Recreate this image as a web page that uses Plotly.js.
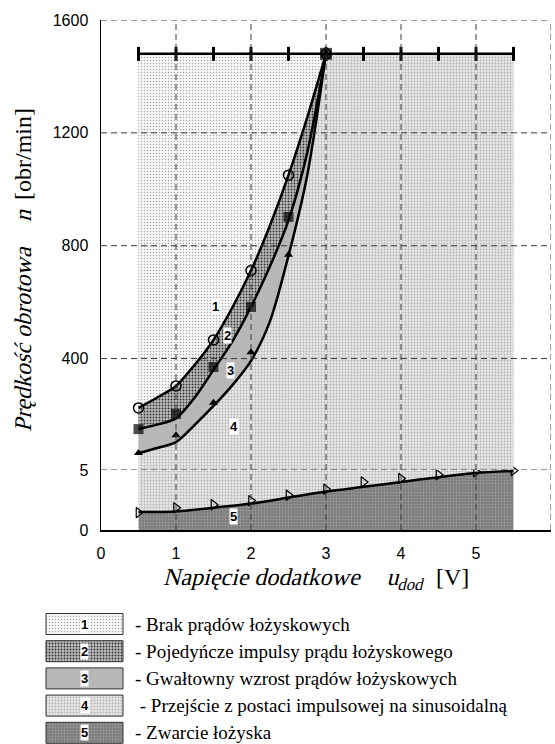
<!DOCTYPE html>
<html>
<head>
<meta charset="utf-8">
<script src="https://cdn.plot.ly/plotly-3.0.1.min.js"></script>
<style>html,body{margin:0;padding:0;background:#fff;}#chart{width:555px;height:744px;}</style>
</head>
<body>
<div id="chart"></div>
<script>
// ---------------- data ----------------
// measured points (region boundaries 1-3), upper panel [obr/min]
const voltagePts = [0.5, 1, 1.5, 2, 2.5, 3];
const n1Pts = [225, 303, 466, 712, 1050, 1480];   // circles
const n2Pts = [150, 204, 370, 583, 902, 1480];    // squares
const n3Pts = [65, 128, 243, 422, 768, 1480];     // triangles
// fitted boundary curves
const voltageFit = [0.5, 0.75, 1, 1.25, 1.5, 1.75, 2, 2.25, 2.5, 2.75, 3];
const n1Fit = [225, 262, 303, 378, 466, 580, 712, 870, 1050, 1255, 1480];
const n2Fit = [150, 166, 188, 262, 360, 460, 583, 725, 890, 1130, 1480];
const n3Fit = [65, 83, 104, 165, 232, 305, 392, 530, 765, 1050, 1480];
// rated speed line
const voltageTop = [0.5, 1, 1.5, 2, 2.5, 3, 3.5, 4, 4.5, 5, 5.5];
const nTop = [1480, 1480, 1480, 1480, 1480, 1480, 1480, 1480, 1480, 1480, 1480];
// region 5 boundary, lower panel (0..5)
const voltage5 = [0.5, 1, 1.5, 2, 2.5, 3, 3.5, 4, 4.5, 5, 5.5];
const n5Pts = [1.45, 1.85, 2.1, 2.45, 2.9, 3.4, 4.0, 4.3, 4.6, 4.85, 4.95];
const n5Fit = [1.5, 1.55, 1.85, 2.2, 2.7, 3.2, 3.6, 4.0, 4.4, 4.75, 4.92];
// axes
const xTicks = [0, 1, 2, 3, 4, 5, 6];
const yTicksUpper = [5, 400, 800, 1200, 1600];
const yTicksLower = [0];
const regionLabels = ['1', '2', '3', '4', '5'];
const regionLabelX = [1.53, 1.69, 1.72, 1.77, 1.76];
const regionLabelY = [584, 480, 357, 158, 1.1];
const legendTexts = [
  '- Brak prądów łożyskowych',
  '- Pojedyńcze impulsy prądu łożyskowego',
  '- Gwałtowny wzrost prądów łożyskowych',
  ' - Przejście z postaci impulsowej na sinusoidalną',
  '- Zwarcie łożyska'
];
const xTitleParts = ['Napięcie dodatkowe', 'u<sub>dod</sub>', '[V]'];
const yTitleParts = ['Prędkość obrotowa', 'n', '[obr/min]'];

// ---------------- styles ----------------
const W = 555, H = 744;
const PL = 101, PR = 551, PT = 20, PBRK = 470, PB = 530;
const xDom = [PL / W, PR / W];
const yUpDom = [(H - PBRK) / H, (H - PT) / H];
const yLoDom = [(H - PB) / H, (H - PBRK) / H];
const SERIF = 'Liberation Serif';
const SANS = 'Liberation Sans';

const patterns = [
  {shape: '.', bgcolor: '#f7f7f7', fgcolor: '#a8a8a8', size: 3, solidity: 0.2, fillmode: 'replace'},
  {shape: '.', bgcolor: '#bdbdbd', fgcolor: '#303030', size: 3, solidity: 0.3, fillmode: 'replace'},
  {shape: '.', bgcolor: '#c9c9c9', fgcolor: '#9c9c9c', size: 2, solidity: 0.4, fillmode: 'replace'},
  {shape: '.', bgcolor: '#e6e6e6', fgcolor: '#b4b4b4', size: 3, solidity: 0.3, fillmode: 'replace'},
  {shape: '.', bgcolor: '#7c7c7c', fgcolor: '#9c9c9c', size: 3, solidity: 0.3, fillmode: 'replace'}
];
const noLine = {width: 0, color: 'rgba(0,0,0,0)'};
const bold = {color: '#000', width: 2.5, shape: 'spline', smoothing: 0.8};

const traces = [];
const first = a => a[0], last = a => a[a.length - 1];

traces.push({x: [first(voltageTop), last(voltageTop)], y: [yTicksUpper[0], yTicksUpper[0]], xaxis: 'x', yaxis: 'y2', mode: 'lines', line: noLine, hoverinfo: 'skip', showlegend: false});
traces.push({x: [first(voltageTop), last(voltageTop)], y: [first(nTop), last(nTop)], xaxis: 'x', yaxis: 'y2', mode: 'lines', line: noLine, fill: 'tonexty', fillpattern: patterns[3], fillcolor: patterns[3].bgcolor, hoverinfo: 'skip', showlegend: false});
traces.push({x: [first(voltageFit), last(voltageFit)], y: [first(nTop), first(nTop)], xaxis: 'x', yaxis: 'y2', mode: 'lines', line: noLine, hoverinfo: 'skip', showlegend: false});
traces.push({x: voltageFit, y: n1Fit, xaxis: 'x', yaxis: 'y2', mode: 'lines', line: bold, fill: 'tonexty', fillpattern: patterns[0], fillcolor: patterns[0].bgcolor, showlegend: false});
traces.push({x: voltageFit, y: n2Fit, xaxis: 'x', yaxis: 'y2', mode: 'lines', line: bold, fill: 'tonexty', fillpattern: patterns[1], fillcolor: patterns[1].bgcolor, showlegend: false});
traces.push({x: voltageFit, y: n3Fit, xaxis: 'x', yaxis: 'y2', mode: 'lines', line: bold, fill: 'tonexty', fillpattern: patterns[2], fillcolor: patterns[2].bgcolor, showlegend: false});
traces.push({x: voltageTop, y: nTop, xaxis: 'x', yaxis: 'y2', mode: 'lines+markers', line: {color: '#000', width: 2.5},
  marker: {symbol: 'line-ns-open', size: 10, color: '#000', line: {color: '#000', width: 3}}, cliponaxis: false, showlegend: false});
traces.push({x: voltagePts, y: n1Pts, xaxis: 'x', yaxis: 'y2', mode: 'markers', marker: {symbol: 'circle-open', size: 10, color: '#000', line: {width: 1.5, color: '#000'}}, showlegend: false});
traces.push({x: voltagePts, y: n3Pts, xaxis: 'x', yaxis: 'y2', mode: 'markers', marker: {symbol: 'triangle-up', size: 8, color: '#000', line: {width: 0}}, showlegend: false});
traces.push({x: voltagePts, y: n2Pts, xaxis: 'x', yaxis: 'y2', mode: 'markers',
  marker: {symbol: 'square', size: voltagePts.map((v, i) => i === voltagePts.length - 1 ? 12 : 10),
           color: '#000', line: {width: 0}}, cliponaxis: false, showlegend: false});

traces.push({x: [first(voltage5), last(voltage5)], y: [5, 5], xaxis: 'x', yaxis: 'y', mode: 'lines', line: noLine, hoverinfo: 'skip', showlegend: false});
traces.push({x: voltage5, y: n5Fit, xaxis: 'x', yaxis: 'y', mode: 'lines', line: {width: 0, shape: 'spline', smoothing: 0.8}, fill: 'tonexty', fillpattern: patterns[3], fillcolor: patterns[3].bgcolor, hoverinfo: 'skip', showlegend: false});
traces.push({x: voltage5, y: n5Fit, xaxis: 'x', yaxis: 'y', mode: 'lines', line: bold, fill: 'tozeroy', fillpattern: patterns[4], fillcolor: patterns[4].bgcolor, showlegend: false});
traces.push({x: voltage5, y: n5Pts, xaxis: 'x', yaxis: 'y', mode: 'markers', marker: {symbol: 'triangle-right-open', size: 9, color: '#000', line: {width: 1.2, color: '#000'}}, cliponaxis: false, showlegend: false});

const legX0 = 46, legX1 = 123, legY0 = 624, legDy = 27.2, legH = 21;
legendTexts.forEach((t, i) => {
  const yc = legY0 + i * legDy;
  traces.push({x: [legX0, legX1, legX1, legX0, legX0], y: [yc - legH / 2, yc - legH / 2, yc + legH / 2, yc + legH / 2, yc - legH / 2],
    xaxis: 'x3', yaxis: 'y3', mode: 'lines', line: {color: '#333', width: 1}, fill: 'toself',
    fillpattern: patterns[i], fillcolor: patterns[i].bgcolor, hoverinfo: 'skip', showlegend: false});
});

const gridLine = {color: '#3a3a3a', width: 1, dash: '6px,4px'};
const shapes = [];
xTicks.filter(v => v > 0).forEach(v => shapes.push({type: 'line', layer: 'above', xref: 'x', yref: 'paper', x0: v, x1: v, y0: yLoDom[0], y1: yUpDom[1], line: gridLine}));
yTicksUpper.forEach(v => shapes.push({type: 'line', layer: 'above', xref: 'paper', yref: 'y2', x0: xDom[0], x1: xDom[1], y0: v, y1: v, line: gridLine}));

const annotations = [];
const italicIdx = [];
regionLabels.forEach((t, i) => annotations.push({
  xref: 'x', yref: i < 4 ? 'y2' : 'y', x: regionLabelX[i], y: regionLabelY[i], text: '<b>' + t + '</b>', showarrow: false,
  font: {family: SANS, size: 13, color: '#000'}, bgcolor: '#fff', borderpad: 0
}));
legendTexts.forEach((t, i) => {
  const yc = legY0 + i * legDy;
  annotations.push({xref: 'x3', yref: 'y3', x: (legX0 + legX1) / 2, y: yc, text: '<b>' + regionLabels[i] + '</b>', showarrow: false,
    font: {family: SANS, size: 13, color: '#000'}, bgcolor: '#fff', borderpad: 0});
  annotations.push({xref: 'x3', yref: 'y3', x: 133, y: yc, xanchor: 'left', yanchor: 'middle', text: t.replace(/^ /, '\u00a0'), showarrow: false,
    font: {family: SERIF, size: 19, color: '#000'}});
});
// axis titles: italic parts are slanted after drawing (serif italic face not available)
const titleFont = {family: SERIF, size: 24, color: '#000'};
const xTitleCx = [263, 407, 452];
xTitleParts.forEach((t, i) => {
  if (i < 2) italicIdx.push(annotations.length);
  annotations.push({xref: 'paper', yref: 'paper', x: xTitleCx[i] / W, y: (H - 562) / H, xanchor: 'center', yanchor: 'top',
    text: t, showarrow: false, font: titleFont});
});
const yTitleCy = [338, 214, 154];
yTitleParts.forEach((t, i) => {
  if (i < 2) italicIdx.push(annotations.length);
  annotations.push({xref: 'paper', yref: 'paper', x: 23 / W, y: (H - yTitleCy[i]) / H, xanchor: 'center', yanchor: 'middle', textangle: -90,
    text: t, showarrow: false, font: titleFont});
});

const tickFont = {family: SANS, size: 16, color: '#000'};
const layout = {
  width: W, height: H,
  margin: {l: 0, r: 0, t: 0, b: 0, pad: 0},
  paper_bgcolor: '#fff', plot_bgcolor: 'rgba(0,0,0,0)',
  showlegend: false,
  font: {family: SANS},
  xaxis: {domain: xDom, range: [0, 6], anchor: 'y', tickvals: xTicks, ticktext: xTicks.map(String), tickfont: tickFont,
    showgrid: false, zeroline: false, showline: true, linecolor: '#000', linewidth: 1.5, ticks: '', ticklabelstandoff: 8, automargin: false},
  yaxis: {domain: yLoDom, range: [0, 5], anchor: 'x', tickvals: yTicksLower, ticktext: yTicksLower.map(String), tickfont: tickFont,
    showgrid: false, zeroline: false, showline: true, linecolor: '#000', linewidth: 1.5, ticks: '', ticklabelstandoff: 8, automargin: false},
  yaxis2: {domain: yUpDom, range: [5, 1600], anchor: 'x', tickvals: yTicksUpper, ticktext: yTicksUpper.map(String), tickfont: tickFont,
    showgrid: false, zeroline: false, showline: true, linecolor: '#000', linewidth: 1.5, ticks: '', ticklabelstandoff: 8, automargin: false},
  xaxis3: {domain: [0, 1], range: [0, W], anchor: 'y3', visible: false, fixedrange: true},
  yaxis3: {domain: [0, 150 / H], range: [H, H - 150], anchor: 'x3', visible: false, fixedrange: true},
  shapes: shapes,
  annotations: annotations
};

Plotly.newPlot('chart', traces, layout, {displayModeBar: false, staticPlot: true}).then(gd => {
  italicIdx.forEach(i => {
    const t = gd.querySelector('.annotation[data-index="' + i + '"] text.annotation-text');
    if (!t) return;
    const bb = t.getBBox();
    const cx = bb.x + bb.width / 2, cy = bb.y + bb.height / 2;
    const prev = t.getAttribute('transform') || '';
    t.setAttribute('transform', prev + ' translate(' + cx + ',' + cy + ') skewX(-14) translate(' + (-cx) + ',' + (-cy) + ')');
  });
});
</script>
</body>
</html>
